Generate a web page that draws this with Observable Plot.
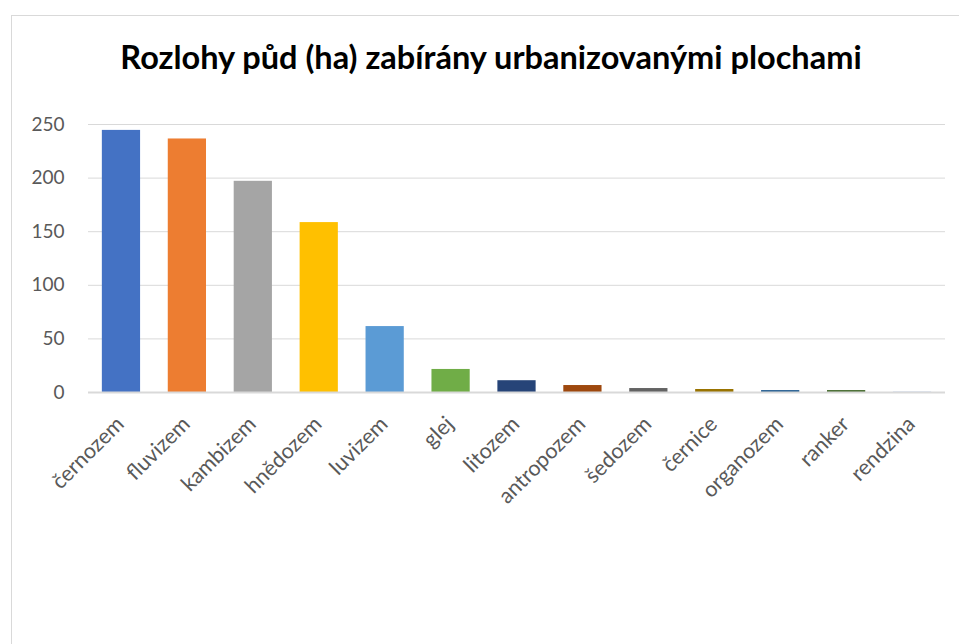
<!DOCTYPE html>
<html>
<head>
<meta charset="utf-8">
<script src="https://cdn.jsdelivr.net/npm/d3@7"></script>
<script src="https://cdn.jsdelivr.net/npm/@observablehq/plot@0.6"></script>
<style>
  html, body { margin: 0; padding: 0; background: #fff; overflow: hidden; }
  #frame { position: absolute; left: 11px; top: 15px; width: 970px; height: 660px; border: 1.5px solid #d9d9d9; box-sizing: border-box; }
  #title { position: absolute; left: 11px; width: 960px; top: 37px; text-align: center; font-family: Lato, "Open Sans", sans-serif; font-weight: bold; font-size: 32.5px; line-height: 40px; color: #000; }
  #chart { position: absolute; left: 0; top: 0; }
</style>
</head>
<body>
<div id="frame"></div>
<div id="title">Rozlohy půd (ha) zabírány urbanizovanými plochami</div>
<div id="chart"></div>
<script>
const categories = ["černozem","fluvizem","kambizem","hnědozem","luvizem","glej","litozem","antropozem","šedozem","černice","organozem","ranker","rendzina"];
const values = [244.5, 236.5, 197, 158.5, 61.5, 21.5, 11, 6.5, 3.7, 2.8, 1.8, 1.8, 0.2];
const colors = ["#4472C4","#ED7D31","#A5A5A5","#FFC000","#5B9BD5","#70AD47","#264478","#9E480E","#636363","#997300","#255E91","#43682B","#698ED0"];
const yTicks = [0, 50, 100, 150, 200, 250];

const data = categories.map((c, i) => ({cat: c, value: values[i], color: colors[i]}));

const chart = Plot.plot({
  width: 959,
  height: 644,
  marginLeft: 88,
  marginRight: 14,
  marginTop: 124,
  marginBottom: 252,
  style: {fontFamily: "Lato, 'Open Sans', sans-serif", background: "transparent"},
  x: {domain: categories, paddingInner: 0.42, paddingOuter: 0.21, round: false, label: null},
  y: {domain: [0, 250], label: null},
  marks: [
    Plot.gridY(yTicks, {stroke: "#d9d9d9", strokeOpacity: 1, strokeWidth: 1}),
    Plot.axisY(yTicks, {tickSize: 0, tickPadding: 24, fontSize: 19, fill: "#595959", label: null}),
    Plot.barY(data, {x: "cat", y: "value", fill: "color"}),
    Plot.ruleY([0], {stroke: "#d9d9d9", strokeWidth: 2}),
    Plot.axisX({tickSize: 0, tickRotate: -45, tickPadding: 28, dx: -1, fontSize: 21.5, fill: "#595959", label: null})
  ]
});
document.getElementById("chart").appendChild(chart);
</script>
</body>
</html>
